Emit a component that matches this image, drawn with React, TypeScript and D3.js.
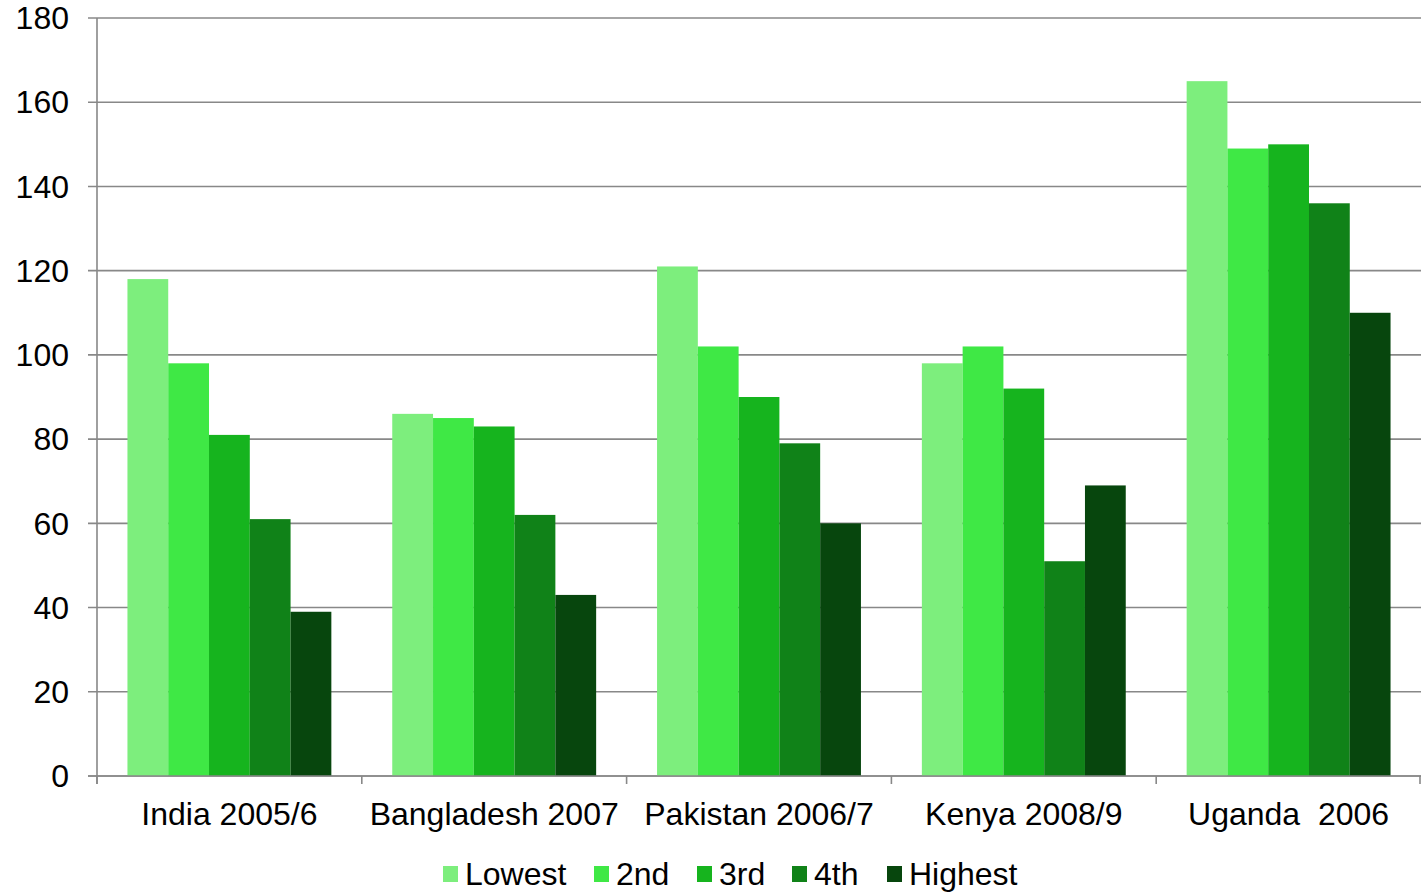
import { useEffect, useRef } from 'react';
import * as d3 from 'd3';

const categories = ['India 2005/6', 'Bangladesh 2007', 'Pakistan 2006/7', 'Kenya 2008/9', 'Uganda  2006'];
const seriesNames = ['Lowest', '2nd', '3rd', '4th', 'Highest'];
const seriesColors = ['#7DEE7D', '#3FE845', '#16B41E', '#108218', '#07460D'];

const lowest = [118, 86, 121, 98, 165];
const second = [98, 85, 102, 102, 149];
const third = [81, 83, 90, 92, 150];
const fourth = [61, 62, 79, 51, 136];
const highest = [39, 43, 60, 69, 110];

const yTicks = [0, 20, 40, 60, 80, 100, 120, 140, 160, 180];

const W = 1421;
const H = 893;
const margin = { top: 18, right: 0, bottom: 117, left: 97 };

export default function App() {
  const svgRef = useRef<SVGSVGElement>(null);

  useEffect(() => {
    if (!svgRef.current) return;
    const svg = d3.select(svgRef.current);
    svg.selectAll('*').remove();

    const series = [lowest, second, third, fourth, highest];
    const font = '"Liberation Sans", Arial, sans-serif';

    const x0 = d3.scaleBand<string>()
      .domain(categories)
      .range([margin.left, W - margin.right]);

    const bw = x0.bandwidth();
    const gap = bw * 0.115;
    const x1 = d3.scaleBand<string>()
      .domain(seriesNames)
      .range([gap, bw - gap]);

    const y = d3.scaleLinear()
      .domain([0, 180])
      .range([H - margin.bottom, margin.top]);

    // gridlines + y tick marks
    svg.append('g')
      .selectAll('line')
      .data(yTicks)
      .join('line')
      .attr('x1', margin.left - 9)
      .attr('x2', W)
      .attr('y1', (d) => y(d))
      .attr('y2', (d) => y(d))
      .attr('stroke', '#888')
      .attr('stroke-width', 1.6);

    svg.append('g')
      .selectAll('text')
      .data(yTicks)
      .join('text')
      .attr('x', 69)
      .attr('y', (d) => y(d))
      .attr('dy', '0.35em')
      .attr('text-anchor', 'end')
      .style('font', `32px ${font}`)
      .text((d) => d);

    // bars
    const groups = svg.append('g')
      .selectAll('g')
      .data(categories)
      .join('g')
      .attr('transform', (d) => `translate(${x0(d)},0)`);

    groups.selectAll('rect')
      .data((_c, i) => seriesNames.map((name, s) => ({ name, value: series[s][i], s })))
      .join('rect')
      .attr('x', (d) => x1(d.name)!)
      .attr('width', x1.bandwidth())
      .attr('y', (d) => y(d.value))
      .attr('height', (d) => y(0) - y(d.value))
      .attr('fill', (d) => seriesColors[d.s]);

    // axes
    svg.append('line')
      .attr('x1', margin.left).attr('x2', margin.left)
      .attr('y1', y(180)).attr('y2', y(0) + 8)
      .attr('stroke', '#888').attr('stroke-width', 1.6);

    svg.append('line')
      .attr('x1', margin.left - 9).attr('x2', W)
      .attr('y1', y(0)).attr('y2', y(0))
      .attr('stroke', '#888').attr('stroke-width', 1.6);

    const boundaries = categories.map((c) => x0(c)!).concat([W - margin.right - 1]);
    svg.append('g')
      .selectAll('line')
      .data(boundaries)
      .join('line')
      .attr('x1', (d) => d).attr('x2', (d) => d)
      .attr('y1', y(0)).attr('y2', y(0) + 8)
      .attr('stroke', '#888').attr('stroke-width', 1.6);

    svg.append('g')
      .selectAll('text')
      .data(categories)
      .join('text')
      .attr('x', (d) => x0(d)! + bw / 2)
      .attr('y', 825)
      .attr('text-anchor', 'middle')
      .style('font', `32px ${font}`)
      .style('white-space', 'pre')
      .text((d) => d);

    // legend
    const legendX = [443, 594, 697, 792, 887];
    const legend = svg.append('g')
      .selectAll('g')
      .data(seriesNames)
      .join('g')
      .attr('transform', (_d, i) => `translate(${legendX[i]},0)`);

    legend.append('rect')
      .attr('x', 0).attr('y', 866)
      .attr('width', 15).attr('height', 16)
      .attr('fill', (_d, i) => seriesColors[i]);

    legend.append('text')
      .attr('x', 22)
      .attr('y', 885)
      .style('font', `32px ${font}`)
      .text((d) => d);
  }, []);

  return <svg ref={svgRef} width={W} height={H} style={{ display: 'block', position: 'absolute', left: 0, top: 0 }} />;
}
